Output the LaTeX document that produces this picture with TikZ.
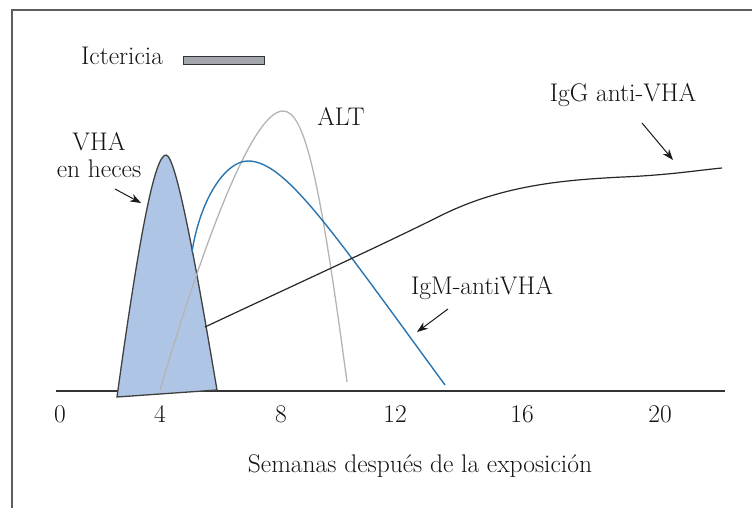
\documentclass[tikz,border=0pt]{standalone}
\usepackage{tikz}
\usetikzlibrary{positioning}
\usetikzlibrary{arrows.meta}
\definecolor{vhafill}{HTML}{AEC5E5}
\definecolor{igmblue}{HTML}{2A74B0}
\definecolor{altgray}{HTML}{B4B4B4}
\definecolor{framegray}{HTML}{5E5E5E}
\definecolor{bargray}{HTML}{A3A6AD}

\begin{document}
\begin{tikzpicture}[
x=1pt, y=-1pt,
every node/.style={font=\fontsize{25.5}{27}\selectfont, text=black!92, inner sep=0pt},
labelnode/.style={anchor=base},
barnode/.style={rectangle, draw=black!80, fill=bargray, line width=1pt, minimum width=81pt, minimum height=8pt},
pointer/.style={-{Stealth[length=11pt,width=8pt]}, line width=1pt, black!90},
]
\useasboundingbox (0,0) rectangle (752,508);
%Frame
\draw[framegray, line width=2.2pt] (12,508) -- (12,10) -- (752,10);

%Axis
\coordinate (origin) at (56,391);
\coordinate (axisend) at (725,391);
\draw[black!80, line width=1.4pt] (origin) -- (axisend);
\foreach \lab/\xx in {0/60, 4/160, 8/281, 12/395, 16/522, 20/660}
  \node[labelnode] (t\lab) at (\xx,422) {\lab};
\node[labelnode] (xlab) at (420,472) {Semanas después de la exposición};

%Ictericia
\node[labelnode] (ict) at (122,65) {Ictericia};
\node[barnode] (ictbar) at (223.5,61) {};

%Curves
\draw[black!75, line width=1.3pt, fill=vhafill] (117,397) .. controls (140,230) and (155,155) .. (166,155)
  .. controls (177,155) and (200,290) .. (217,390) -- cycle;
\draw[altgray, line width=1.3pt] (160,390) .. controls (197,265) and (250,111) .. (283,111)
  .. controls (305,111) and (320,180) .. (347,382);
\draw[igmblue, line width=1.4pt] (192,252) .. controls (200,200) and (225,161) .. (248,161)
  .. controls (285,161) and (330,228) .. (445,385);
\draw[black!85, line width=1.2pt] (205,327) .. controls (290,287) and (380,246) .. (440,216)
  .. controls (500,186) and (560,180) .. (623,177) .. controls (670,175) and (700,170) .. (722,168);

%Labels
\node[labelnode] (alt) at (341,125) {ALT};
\node[align=center] (vha) at (99,155) {VHA\\en heces};
\node[labelnode] (igg) at (623,102) {IgG anti-VHA};
\node[labelnode] (igm) at (482,294) {IgM-antiVHA};

%Pointers
\coordinate (vhatail) at (115,189);
\coordinate (vhatip) at (141,203);
\coordinate (iggtail) at (642,123);
\coordinate (iggtip) at (673,160);
\coordinate (igmtail) at (448,309);
\coordinate (igmtip) at (417,332);
\draw[pointer] (vhatail) -- (vhatip);
\draw[pointer] (iggtail) -- (iggtip);
\draw[pointer] (igmtail) -- (igmtip);
\end{tikzpicture}
\end{document}
